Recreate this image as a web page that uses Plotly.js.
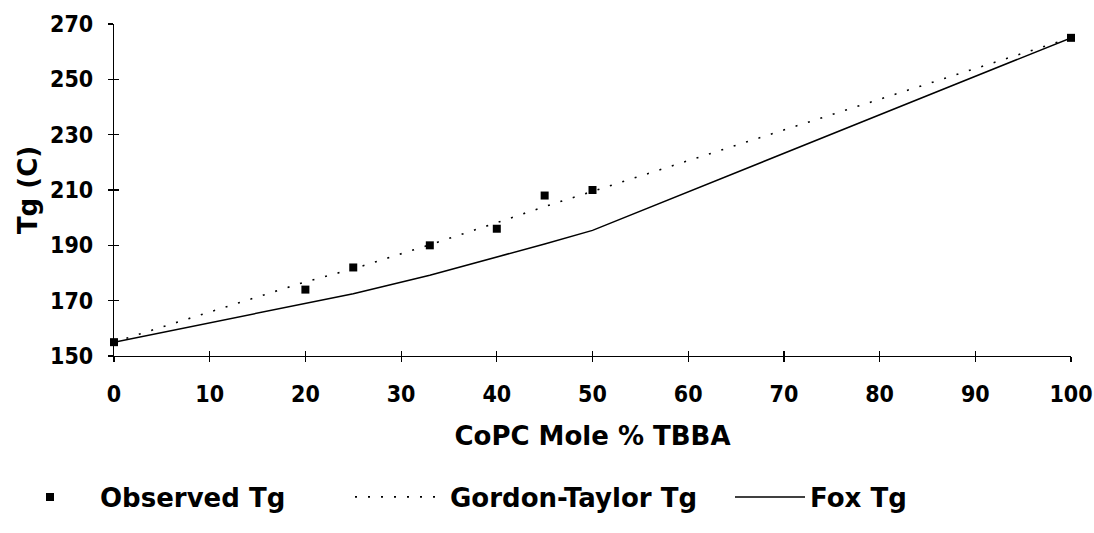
<!DOCTYPE html>
<html>
<head>
<meta charset="utf-8">
<script src="https://cdn.plot.ly/plotly-3.0.1.min.js"></script>
<style>html,body{margin:0;padding:0;background:#fff;}#chart{width:1094px;height:533px;}</style>
</head>
<body>
<div id="chart"></div>
<script>
// CoPC Mole % TBBA
const molePct = [0, 20, 25, 33, 40, 45, 50, 100];
const observedTg = [155, 174, 182, 190, 196, 208, 210, 265];
const gordonTaylorTg = [155, 176.8, 181.5, 190.2, 198.2, 204, 209.5, 265];
const foxTg = [155, 169.2, 172.5, 179.2, 185.7, 190.5, 195.4, 265];
const xTicks = [0, 10, 20, 30, 40, 50, 60, 70, 80, 90, 100];
const yTicks = [150, 170, 190, 210, 230, 250, 270];

const tickFont = {family: '"DejaVu Sans Condensed", "DejaVu Sans", sans-serif', size: 23, color: '#000', weight: 'bold'};
const labelFont = {family: '"DejaVu Sans", "Noto Sans", sans-serif', size: 26, color: '#000', weight: 'bold'};

const traces = [
  {x: molePct, y: observedTg, name: 'Observed Tg', mode: 'markers', type: 'scatter', legend: 'legend',
   marker: {symbol: 'square', size: 8, color: '#000'}, cliponaxis: false},
  {x: molePct, y: gordonTaylorTg, name: 'Gordon-Taylor Tg', mode: 'lines', type: 'scatter', legend: 'legend2',
   line: {color: '#000', width: 1.6, dash: '2px,11px'}},
  {x: molePct, y: foxTg, name: 'Fox Tg', mode: 'lines', type: 'scatter', legend: 'legend3',
   line: {color: '#000', width: 1.5}},
  // carrier for the inner half of the crossing tick marks
  {x: [molePct[0]], y: [observedTg[0]], xaxis: 'x2', yaxis: 'y2', mode: 'markers', type: 'scatter',
   marker: {opacity: 0}, showlegend: false, hoverinfo: 'skip'}
];

const legBase = {orientation: 'h', xref: 'container', yref: 'container', xanchor: 'left',
                 y: 1 - 497 / 533, yanchor: 'middle', font: labelFont, bgcolor: 'rgba(0,0,0,0)'};

const axisCommon = {showgrid: false, zeroline: false, tickcolor: '#000', tickwidth: 1.2, ticklen: 5};

const layout = {
  width: 1094, height: 533,
  margin: {l: 114, r: 23, t: 24, b: 177},
  paper_bgcolor: '#fff', plot_bgcolor: '#fff',
  showlegend: true,
  legend: {...legBase, x: 0 / 1094, itemwidth: 90},
  legend2: {...legBase, x: 350 / 1094, itemwidth: 90},
  legend3: {...legBase, x: 730 / 1094, itemwidth: 70},
  xaxis: {...axisCommon, range: [0, 100], tickvals: xTicks, ticktext: xTicks.map(String),
          showline: true, linecolor: '#000', linewidth: 1.2,
          ticks: 'outside', tickfont: tickFont, ticklabelstandoff: 12,
          title: {text: 'CoPC Mole % TBBA', font: labelFont, standoff: 21}},
  yaxis: {...axisCommon, range: [150, 270], tickvals: yTicks, ticktext: yTicks.map(String),
          showline: true, linecolor: '#000', linewidth: 1.2,
          ticks: 'outside', tickfont: tickFont, ticklabelstandoff: 10,
          title: {text: 'Tg (C)', font: labelFont, standoff: 4}},
  xaxis2: {...axisCommon, range: [0, 100], tickvals: xTicks, overlaying: 'x', anchor: 'y2',
           ticks: 'inside', showticklabels: false, showline: false},
  yaxis2: {...axisCommon, range: [150, 270], tickvals: yTicks, overlaying: 'y', anchor: 'x2',
           ticks: 'inside', showticklabels: false, showline: false}
};

Plotly.newPlot('chart', traces, layout, {displayModeBar: false, staticPlot: true});
</script>
</body>
</html>
